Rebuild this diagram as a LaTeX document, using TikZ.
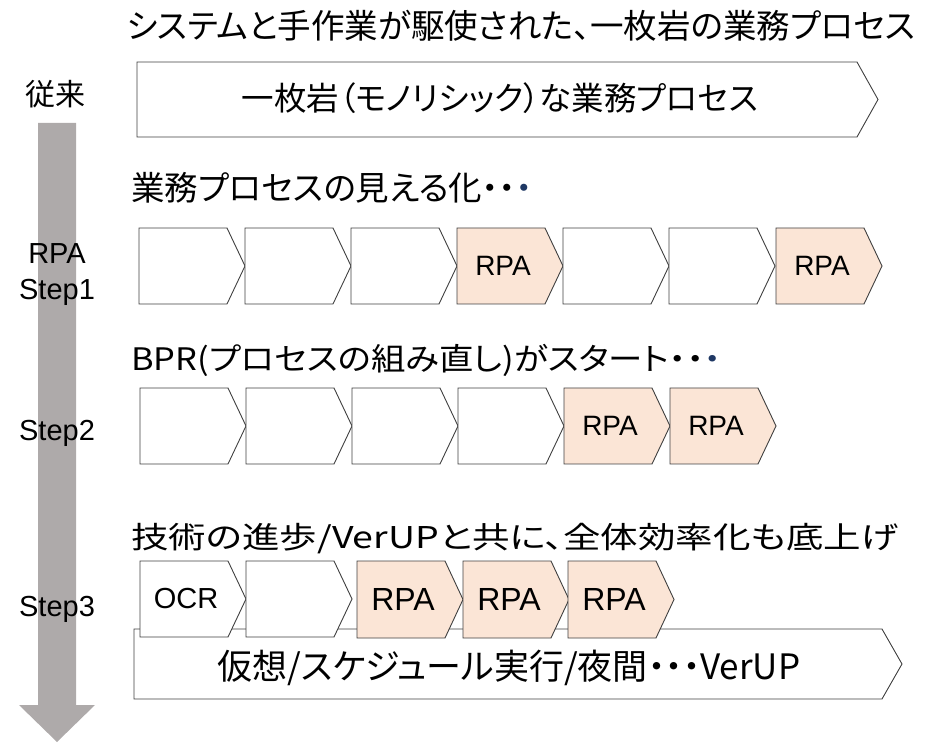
\documentclass[tikz,border=0pt]{standalone}
\usepackage{fontspec}
\setmainfont{Noto Sans CJK JP}[RawFeature=+palt]
\newfontfamily\latinfont{Liberation Sans}
\definecolor{arrowgray}{HTML}{AEAAAA}
\definecolor{rpafill}{HTML}{FBE5D6}
\definecolor{navydot}{HTML}{1F3864}
\definecolor{edge}{HTML}{404040}
\newcommand\mychev[6]{%
  \draw[chevline,fill=#4] (#1,#2) -- ++(88,0) -- (#1+106,{(#2+#3)/2}) -- (#1+88,#3) -- (#1,#3) -- cycle;
  \node[inner sep=0pt] (#5) at (#1+46,{(#2+#3)/2}) {#6};
}
\tikzset{
  chevline/.style={draw=edge, line width=0.9pt, line join=miter},
  lbl/.style={font=\latinfont\fontsize{29}{34}\selectfont, inner sep=0pt},
  head/.style={inner sep=0pt, anchor=west},
}
\newcommand\rpasmall{\latinfont\fontsize{28}{32}\selectfont RPA}
\newcommand\rpabig{\latinfont\fontsize{32}{36}\selectfont RPA}
\begin{document}
\begin{tikzpicture}[x=1pt,y=-1pt]
\useasboundingbox (0,0) rectangle (930,743);
% big gray arrow
\fill[arrowgray] (38,123) -- (76,123) -- (76,705) -- (95,705) -- (57,742) -- (19,705) -- (38,705) -- cycle;
\coordinate (arrtop) at (57,123);
% title
\node[inner sep=0pt, font=\fontsize{33.5}{40}\selectfont] (title) at (521,26) {システムと手作業が駆使された、一枚岩の業務プロセス};
% side labels
\node[inner sep=0pt, font=\fontsize{30}{36}\selectfont] (l0) at (55,94) {従来};
\node[lbl] (l1a) at (57,254) {RPA};
\node[lbl] (l1b) at (57,292) {Step1};
\node[lbl] (l2) at (57,433) {Step2};
\node[lbl] (l3) at (57,609) {Step3};
% row 0
\draw[chevline,fill=white] (137,62) -- (857,62) -- (878,99.5) -- (857,137) -- (137,137) -- cycle;
\node[inner sep=0pt, font=\fontsize{32.5}{38}\selectfont] (mono) at (500,98) {一枚岩（モノリシック）な業務プロセス};
% row 1
\node[head, font=\fontsize{33.5}{40}\selectfont] (h1) at (131,188) {業務プロセスの見える化・・\textcolor{navydot}{・}};
\mychev{139}{228}{304}{white}{a1}{}
\mychev{245}{228}{304}{white}{a2}{}
\mychev{351}{228}{304}{white}{a3}{}
\mychev{457}{228}{304}{rpafill}{a4}{\rpasmall}
\mychev{563}{228}{304}{white}{a5}{}
\mychev{669}{228}{304}{white}{a6}{}
\mychev{776}{228}{304}{rpafill}{a7}{\rpasmall}
% row 2
\node[head, font=\fontsize{31}{36}\selectfont\addfontfeature{FakeStretch=1.11}] (h2) at (131,360) {BPR(プロセスの組み直し)がスタート・・\textcolor{navydot}{・}};
\mychev{140}{388}{464}{white}{b1}{}
\mychev{246}{388}{464}{white}{b2}{}
\mychev{352}{388}{464}{white}{b3}{}
\mychev{458}{388}{464}{white}{b4}{}
\mychev{564}{388}{464}{rpafill}{b5}{\rpasmall}
\mychev{670}{388}{464}{rpafill}{b6}{\rpasmall}
% row 3
\node[head, font=\fontsize{30}{36}\selectfont\addfontfeature{FakeStretch=1.25}] (h3) at (131,539) {技術の進歩/VerUPと共に、全体効率化も底上げ};
\draw[chevline,fill=white] (134,629) -- (882,629) -- (902,664) -- (882,699) -- (134,699) -- cycle;
\node[inner sep=0pt, font=\fontsize{35}{40}\selectfont] (base) at (509,668) {仮想/スケジュール実行/夜間・・・VerUP};
\mychev{140}{561}{637}{white}{c1}{\latinfont\fontsize{29}{32}\selectfont OCR}
\mychev{246}{561}{637}{white}{c2}{}
\mychev{357}{561}{638}{rpafill}{c3}{\rpabig}
\mychev{463}{561}{638}{rpafill}{c4}{\rpabig}
\mychev{568}{561}{638}{rpafill}{c5}{\rpabig}
\end{tikzpicture}
\end{document}
